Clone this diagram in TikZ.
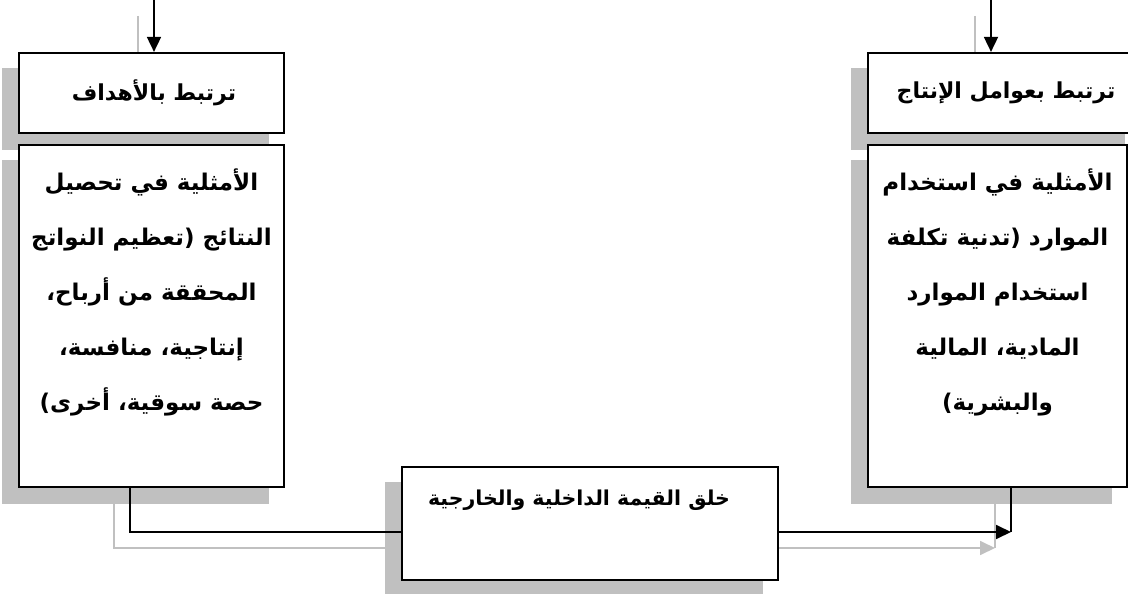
\documentclass[tikz,border=0pt]{standalone}
\usepackage{fontspec}
\newfontfamily\arabicfont[Script=Arabic]{DejaVu Sans}
\TeXXeTstate=1
\usetikzlibrary{arrows.meta}
\definecolor{shade}{RGB}{192,192,192}
\pgfdeclarelayer{bg}
\pgfsetlayers{bg,main}
\tikzset{
  box/.style={draw=black, line width=2.2pt, fill=white, inner sep=0pt},
  txt/.style={font=\arabicfont\bfseries\fontsize{23}{55}\selectfont, align=center, inner sep=0pt},
  conn/.style={line width=1.8pt},
  arr/.style={line width=1.8pt, -{Triangle[length=15pt,width=14pt]}},
  shadowed/.style={transform canvas={shift={(-16,16)}}, draw=shade, fill=shade, color=shade}
}
\begin{document}
\begin{tikzpicture}[x=1pt,y=-1pt]
\useasboundingbox (0,0) rectangle (1128,594);
% boxes
\node[box, minimum width=265, minimum height=80] (tl) at (151.5,93) {};
\node[box, minimum width=265, minimum height=342] (ll) at (151.5,316) {};
\node[box, minimum width=272, minimum height=80] (tr) at (1004,93) {};
\node[box, minimum width=259, minimum height=342] (lr) at (997.5,316) {};
\node[box, minimum width=376, minimum height=113] (mid) at (590,523.5) {};
% texts
\node[txt, font=\arabicfont\bfseries\fontsize{22}{55}\selectfont] (ttl) at (154,93) {\beginR ترتبط بالأهداف\endR};
\node[txt, font=\arabicfont\bfseries\fontsize{22}{55}\selectfont] (ttr) at (1006,93) {\beginR ترتبط بعوامل الإنتاج\endR};
\node[txt] (tll) at (151.5,292) {\beginR الأمثلية في تحصيل\endR\\
\beginR النتائج (تعظيم النواتج\endR\\
\beginR المحققة من أرباح،\endR\\
\beginR إنتاجية، منافسة،\endR\\
\beginR حصة سوقية، أخرى)\endR};
\node[txt] (tlr) at (997.5,292) {\beginR الأمثلية في استخدام\endR\\
\beginR الموارد (تدنية تكلفة\endR\\
\beginR استخدام الموارد\endR\\
\beginR المادية، المالية\endR\\
\beginR والبشرية)\endR};
\node[txt, font=\arabicfont\bfseries\fontsize{20.5}{55}\selectfont] (tmid) at (579,500) {\beginR خلق القيمة الداخلية والخارجية\endR};
% free ends and joints
\coordinate (in1) at (154,0);
\coordinate (in2) at (991,0);
\coordinate (j1) at (130,532);
\coordinate (j2) at (1011,532);
% connectors
\draw[arr] (in1) -- (tl.north -| in1);
\draw[arr] (in2) -- (tr.north -| in2);
\draw[conn] (ll.south -| j1) -- (j1) -- (mid.west |- j1);
\draw[conn] (lr.south -| j2) -- (j2);
\draw[arr] (mid.east |- j2) -- (j2);
% shadows
\begin{pgfonlayer}{bg}
\begin{scope}[shadowed]
\fill (tl.north west) rectangle (tl.south east);
\fill (ll.north west) rectangle (ll.south east);
\fill (tr.north west) rectangle (tr.south east);
\fill (lr.north west) rectangle (lr.south east);
\fill (mid.north west) rectangle (mid.south east);
\draw[arr] (in1) -- (tl.north -| in1);
\draw[arr] (in2) -- (tr.north -| in2);
\draw[conn] (ll.south -| j1) -- (j1) -- (mid.west |- j1);
\draw[conn] (lr.south -| j2) -- (j2);
\draw[arr] (mid.east |- j2) -- (j2);
\end{scope}
\end{pgfonlayer}
\end{tikzpicture}
\end{document}
